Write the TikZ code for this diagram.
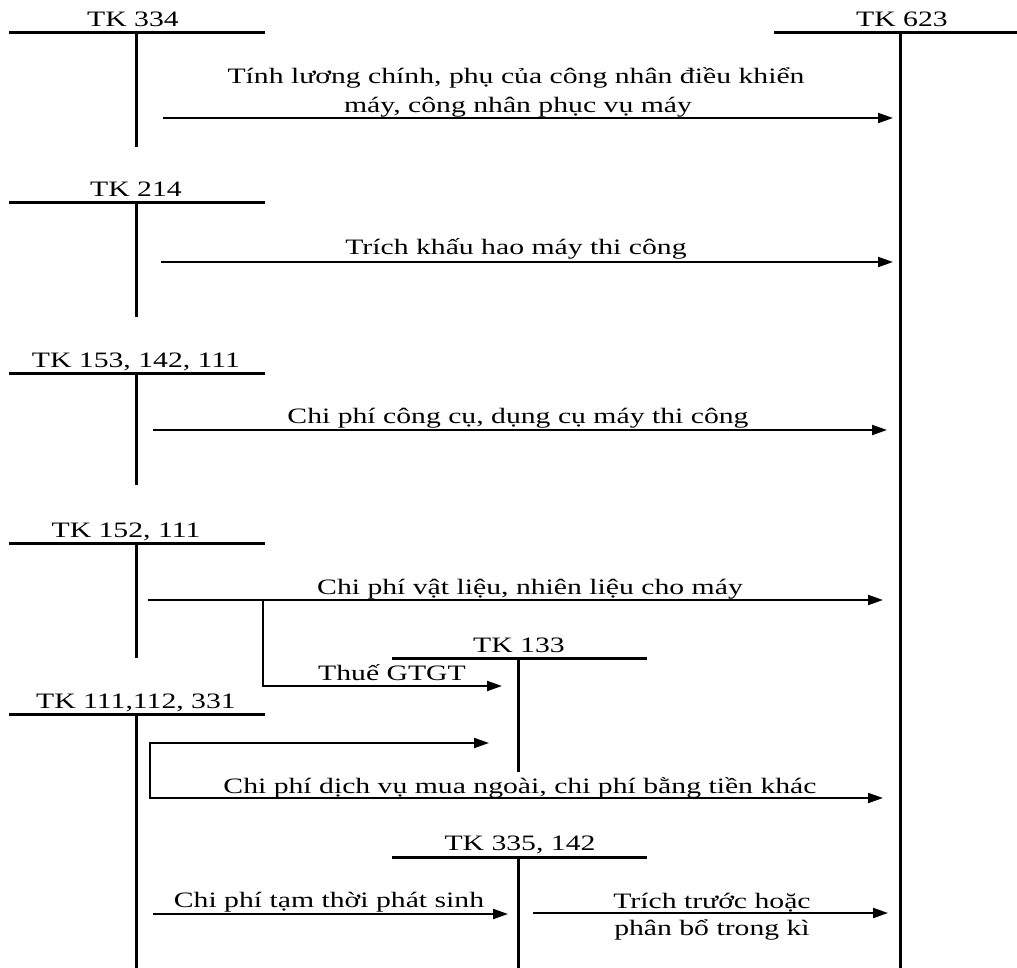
\documentclass[tikz,border=0pt]{standalone}
\usepackage{fontspec}
\setmainfont{Liberation Serif}[FakeStretch=1.35]
\usetikzlibrary{arrows.meta}
\begin{document}
\begin{tikzpicture}[x=1pt,y=-1pt,
  tline/.style={line width=3pt},
  flow/.style={line width=2pt,-{Triangle[length=15pt,width=10pt]}},
  lbl/.style={font=\fontsize{22}{30}\selectfont, anchor=base, inner sep=0pt}]
\useasboundingbox (0,0) rectangle (1017,968);

% ---------- T-accounts ----------
% TK 334
\node[lbl] (n334) at (133,27) {TK 334};
\coordinate (h334l) at (9,33); \coordinate (h334r) at (265,33);
\coordinate (v334t) at (136,33); \coordinate (v334b) at (136,147);
\draw[tline] (h334l) -- (h334r); \draw[tline] (v334t) -- (v334b);

% TK 623
\node[lbl] (n623) at (902,27) {TK 623};
\coordinate (h623l) at (774,33); \coordinate (h623r) at (1017,33);
\coordinate (v623t) at (900,33); \coordinate (v623b) at (900,968);
\draw[tline] (h623l) -- (h623r); \draw[tline] (v623t) -- (v623b);

% TK 214
\node[lbl] (n214) at (136,197) {TK 214};
\coordinate (h214l) at (9,203); \coordinate (h214r) at (265,203);
\coordinate (v214t) at (136,203); \coordinate (v214b) at (136,317);
\draw[tline] (h214l) -- (h214r); \draw[tline] (v214t) -- (v214b);

% TK 153, 142, 111
\node[lbl] (n153) at (136,367) {TK 153, 142, 111};
\coordinate (h153l) at (9,373); \coordinate (h153r) at (265,373);
\coordinate (v153t) at (136,373); \coordinate (v153b) at (136,485);
\draw[tline] (h153l) -- (h153r); \draw[tline] (v153t) -- (v153b);

% TK 152, 111
\node[lbl] (n152) at (126,537) {TK 152, 111};
\coordinate (h152l) at (9,543); \coordinate (h152r) at (265,543);
\coordinate (v152t) at (136,543); \coordinate (v152b) at (136,658);
\draw[tline] (h152l) -- (h152r); \draw[tline] (v152t) -- (v152b);

% TK 133
\node[lbl] (n133) at (519,652) {TK 133};
\coordinate (h133l) at (392,658); \coordinate (h133r) at (647,658);
\coordinate (v133t) at (518,658); \coordinate (v133b) at (518,772);
\draw[tline] (h133l) -- (h133r); \draw[tline] (v133t) -- (v133b);

% TK 111,112, 331
\node[lbl] (n111) at (136,708) {TK 111,112, 331};
\coordinate (h111l) at (9,714); \coordinate (h111r) at (265,714);
\coordinate (v111t) at (136,714); \coordinate (v111b) at (136,968);
\draw[tline] (h111l) -- (h111r); \draw[tline] (v111t) -- (v111b);

% TK 335, 142
\node[lbl] (n335) at (520,850) {TK 335, 142};
\coordinate (h335l) at (392,857); \coordinate (h335r) at (647,857);
\coordinate (v335t) at (518,857); \coordinate (v335b) at (518,968);
\draw[tline] (h335l) -- (h335r); \draw[tline] (v335t) -- (v335b);

% ---------- Flows ----------
% 1
\coordinate (a1s) at (163,118); \coordinate (a1e) at (893,118);
\draw[flow] (a1s) -- (a1e);
\node[lbl] (t1a) at (516,84) {Tính lương chính, phụ của công nhân điều khiển};
\node[lbl] (t1b) at (518,113) {máy, công nhân phục vụ máy};

% 2
\coordinate (a2s) at (161,262); \coordinate (a2e) at (893,262);
\draw[flow] (a2s) -- (a2e);
\node[lbl] (t2) at (516,255) {Trích khấu hao máy thi công};

% 3
\coordinate (a3s) at (153,430); \coordinate (a3e) at (887,430);
\draw[flow] (a3s) -- (a3e);
\node[lbl] (t3) at (518,423) {Chi phí công cụ, dụng cụ máy thi công};

% 4
\coordinate (a4s) at (148,600); \coordinate (a4e) at (883,600);
\draw[flow] (a4s) -- (a4e);
\node[lbl] (t4) at (530,594) {Chi phí vật liệu, nhiên liệu cho máy};
\coordinate (b4s) at (263,600); \coordinate (b4e) at (502,686);
\draw[flow] (b4s) |- (b4e);
\node[lbl] (t4b) at (392,680) {Thuế GTGT};

% 5
\coordinate (a5t) at (489,743); \coordinate (a5c) at (150,798); \coordinate (a5e) at (883,798);
\draw[flow, {Triangle[length=15pt,width=10pt]}-{Triangle[length=15pt,width=10pt]}, line join=miter] (a5t) -| (a5c) -- (a5e);
\node[lbl] (t5) at (520,793) {Chi phí dịch vụ mua ngoài, chi phí bằng tiền khác};

% 6
\coordinate (a6s) at (153,914); \coordinate (a6e) at (508,914);
\draw[flow] (a6s) -- (a6e);
\node[lbl] (t6) at (329,907) {Chi phí tạm thời phát sinh};

% 7
\coordinate (a7s) at (533,913); \coordinate (a7e) at (888,913);
\draw[flow] (a7s) -- (a7e);
\node[lbl] (t7a) at (712,908) {Trích trước hoặc};
\node[lbl] (t7b) at (712,935) {phân bổ trong kì};
\end{tikzpicture}
\end{document}
